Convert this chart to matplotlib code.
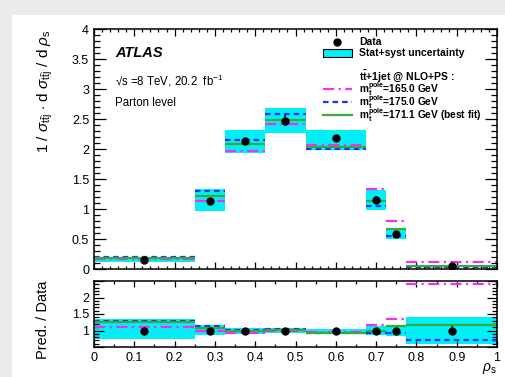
import numpy as np
import matplotlib
matplotlib.use("Agg")
import matplotlib.pyplot as plt
from matplotlib.patches import Rectangle
from matplotlib.lines import Line2D
from matplotlib.ticker import MultipleLocator, FuncFormatter

plt.rcParams['font.family'] = ['Liberation Sans', 'DejaVu Sans']
plt.rcParams['mathtext.fontset'] = 'custom'
plt.rcParams['mathtext.rm'] = 'Liberation Sans'
plt.rcParams['mathtext.it'] = 'Liberation Sans:italic'
plt.rcParams['mathtext.bf'] = 'Liberation Sans:bold'
plt.rcParams['mathtext.sf'] = 'Liberation Sans'

# rho_s binning and measured distribution
bin_edges = [0.0, 0.25, 0.325, 0.425, 0.525, 0.675, 0.725, 0.775, 1.0]
data_x = [0.125, 0.2875, 0.375, 0.475, 0.6, 0.7, 0.75, 0.8875]
data_y = [0.15, 1.14, 2.14, 2.47, 2.18, 1.15, 0.59, 0.05]
data_err = [0.006, 0.03, 0.05, 0.09, 0.03, 0.07, 0.02, 0.0075]
band_lo = [0.112, 0.97, 1.93, 2.26, 1.99, 0.99, 0.50, 0.030]
band_hi = [0.202, 1.33, 2.32, 2.68, 2.31, 1.32, 0.68, 0.071]

# tt+1jet @ NLO+PS predictions for three pole masses
pred_165 = [0.165, 1.14, 1.97, 2.42, 2.06, 1.33, 0.80, 0.120]
pred_175 = [0.195, 1.30, 2.15, 2.58, 2.00, 1.05, 0.55, 0.036]
pred_171 = [0.188, 1.22, 2.08, 2.49, 2.04, 1.14, 0.67, 0.058]

edges = np.array(bin_edges)
lefts, rights, widths = edges[:-1], edges[1:], np.diff(edges)
dy = np.array(data_y)
models = [
    (np.array(pred_165), '#f032f0', (0, (5, 2, 1, 2)), r"$\mathbf{m_{t}^{pole}}$=165.0 GeV"),
    (np.array(pred_175), '#1f2fff', (0, (2.5, 1.8)), r"$\mathbf{m_{t}^{pole}}$=175.0 GeV"),
    (np.array(pred_171), '#3aaa35', '-', r"$\mathbf{m_{t}^{pole}}$=171.1 GeV (best fit)"),
]
CYAN = '#00f0f8'

W, H = 506, 377
fig = plt.figure(figsize=(W / 100, H / 100), dpi=100)
fig.patch.set_facecolor('#ebebeb')
fig.patches.append(Rectangle((12 / W, 0), 1, 1 - 15 / H, transform=fig.transFigure,
                             facecolor='white', edgecolor='none', zorder=-10))

def fx(px):
    return px / W

def fy(py):
    return 1 - py / H

ax = fig.add_axes([fx(94), fy(269), fx(497 - 94), fy(29) - fy(269)])
axr = fig.add_axes([fx(94), fy(347), fx(497 - 94), fy(281) - fy(347)])

def style_axis(a, xmin, ymaj, ymin, ylen=(8.5, 4.3), xlen=(5, 2.5)):
    a.xaxis.set_major_locator(MultipleLocator(0.1))
    a.xaxis.set_minor_locator(MultipleLocator(xmin))
    a.yaxis.set_major_locator(MultipleLocator(ymaj))
    a.yaxis.set_minor_locator(MultipleLocator(ymin))
    a.tick_params(axis='both', which='both', direction='in', top=True, right=True,
                  width=0.9, labelsize=9, colors='black')
    a.tick_params(axis='y', which='major', length=ylen[0])
    a.tick_params(axis='y', which='minor', length=ylen[1])
    a.tick_params(axis='x', which='major', length=xlen[0])
    a.tick_params(axis='x', which='minor', length=xlen[1])
    for s in a.spines.values():
        s.set_linewidth(1.1)

# main panel
ax.bar(lefts, np.array(band_hi) - np.array(band_lo), width=widths, bottom=band_lo,
       align='edge', color=CYAN, edgecolor='none', zorder=1)
for vals, col, ls, _ in models:
    ax.hlines(vals, lefts, rights, colors=col, linestyles=ls, linewidth=1.6, zorder=2)
ax.errorbar(data_x, data_y, yerr=data_err, fmt='o', color='black', ms=5,
            elinewidth=1.2, capsize=0, zorder=4)
ax.set_xlim(0, 1)
ax.set_ylim(0, 4)
style_axis(ax, 0.02, 0.5, 0.1)
ax.yaxis.set_major_formatter(FuncFormatter(lambda v, p: f"{v:g}"))
ax.tick_params(axis='x', labelbottom=False)
ax.set_ylabel(r"1 / $\sigma_{\rm t\bar{t}j}$ $\cdot$ d $\sigma_{\rm t\bar{t}j}$ / d $\rho_{\rm s}$",
              fontsize=11, loc='top')
ax.yaxis.set_label_coords(-0.098, 1.0)

ax.text(0.052, 0.885, "ATLAS", transform=ax.transAxes, fontsize=10.5,
        fontweight='bold', style='italic', va='baseline')
ax.text(0.052, 0.785, "√s =8 TeV, 20.2  fb$^{-1}$", transform=ax.transAxes,
        fontsize=8.3, va='center')
ax.text(0.052, 0.69, "Parton level", transform=ax.transAxes, fontsize=8.3, va='center')

# legend
hx0, hx1, tx = 0.568, 0.640, 0.658
rows = [0.946, 0.900, 0.803, 0.748, 0.694, 0.640]
ax.add_line(Line2D([(hx0 + hx1) / 2], [rows[0]], marker='o', color='black', ms=5,
                   transform=ax.transAxes))
ax.text(tx, rows[0], "Data", transform=ax.transAxes, fontsize=7.5,
        fontweight='bold', va='center')
ax.add_patch(Rectangle((hx0, rows[1] - 0.018), hx1 - hx0, 0.036, transform=ax.transAxes,
                       facecolor=CYAN, edgecolor='black', linewidth=0.8))
ax.text(tx, rows[1], "Stat+syst uncertainty", transform=ax.transAxes, fontsize=7.5,
        fontweight='bold', va='center')
ax.text(tx, rows[2], r"$\mathbf{t\bar{t}}$+1jet @ NLO+PS :", transform=ax.transAxes,
        fontsize=7.5, fontweight='bold', va='center')
for (vals, col, ls, lab), ry in zip(models, rows[3:]):
    ax.add_line(Line2D([hx0, hx1], [ry, ry], color=col, linestyle=ls, linewidth=1.6,
                       transform=ax.transAxes))
    ax.text(tx, ry, lab, transform=ax.transAxes, fontsize=7.3, fontweight='bold',
            va='center')

# ratio panel
axr.bar(lefts, (np.array(band_hi) - np.array(band_lo)) / dy, width=widths,
        bottom=np.array(band_lo) / dy, align='edge', color=CYAN, edgecolor='none', zorder=1)
for vals, col, ls, _ in models:
    axr.hlines(vals / dy, lefts, rights, colors=col, linestyles=ls, linewidth=1.6, zorder=2)
axr.errorbar(data_x, dy / dy, yerr=np.array(data_err) / dy, fmt='o', color='black', ms=5,
             elinewidth=1.2, capsize=0, zorder=4)
axr.set_xlim(0, 1)
axr.set_ylim(0.5, 2.5)
style_axis(axr, 0.05, 0.5, 0.1, ylen=(7, 3.5), xlen=(4, 2))
axr.yaxis.set_major_formatter(FuncFormatter(lambda v, p: f"{v:g}" if 0.9 < v < 2.1 else ""))
axr.xaxis.set_major_formatter(FuncFormatter(lambda v, p: f"{v:g}"))
axr.set_ylabel("Pred. / Data", fontsize=10.5, loc='top')
axr.yaxis.set_label_coords(-0.108, 1.0)
axr.set_xlabel(r"$\rho_{\rm s}$", fontsize=10, loc='right')
axr.xaxis.set_label_coords(1.0, -0.205)

fig.savefig("out.png", dpi=100, facecolor=fig.get_facecolor())
